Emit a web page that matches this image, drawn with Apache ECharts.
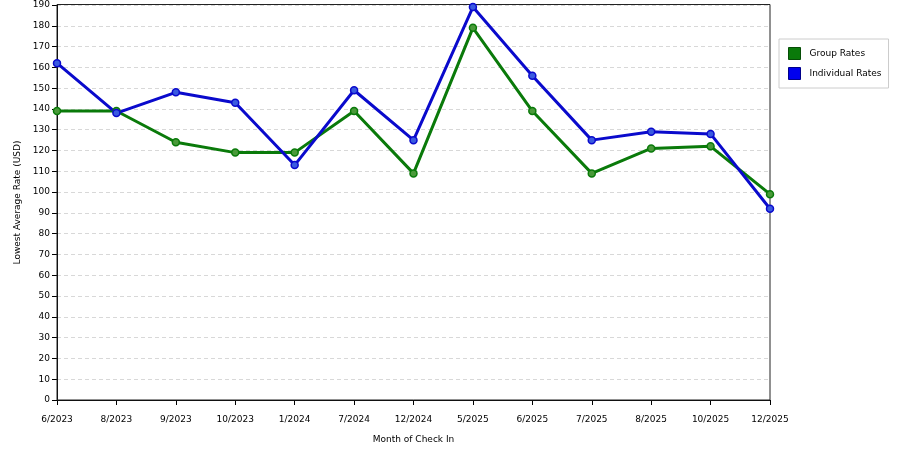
<!DOCTYPE html>
<html>
<head>
<meta charset="utf-8">
<script src="https://cdn.jsdelivr.net/npm/echarts@6/dist/echarts.min.js"></script>
<style>
  html, body { margin: 0; padding: 0; background: #fff; }
  #chart { width: 900px; height: 450px; }
</style>
</head>
<body>
<div id="chart"></div>
<script>
// categories and values
const months = ['6/2023', '8/2023', '9/2023', '10/2023', '1/2024', '7/2024', '12/2024',
                '5/2025', '6/2025', '7/2025', '8/2025', '10/2025', '12/2025'];
const groupRates = [139, 139, 124, 119, 119, 139, 109, 179, 139, 109, 121, 122, 99];
const individualRates = [162, 138, 148, 143, 113, 149, 125, 189, 156, 125, 129, 128, 92];

const chart = echarts.init(document.getElementById('chart'));

const font = 'DejaVu Sans, Arial, sans-serif';

function lineSeries(name, data, color, dot) {
    return {
        name: name,
        type: 'line',
        data: data,
        symbol: 'circle',
        symbolSize: 7,
        showSymbol: true,
        itemStyle: { color: dot, borderColor: color, borderWidth: 1.5 },
        lineStyle: { color: color, width: 3 },
        emphasis: { disabled: true },
        animation: false,
        z: 3
    };
}

const option = {
    backgroundColor: '#fff',
    grid: { left: 57, right: 130, top: 5, bottom: 50 },
    legend: {
        orient: 'vertical',
        left: 779,
        top: 39,
        padding: [8, 7, 8, 9],
        itemGap: 7,
        itemWidth: 12,
        itemHeight: 12,
        borderColor: '#ccc',
        borderWidth: 1,
        icon: 'rect',
        textStyle: { fontFamily: font, fontSize: 9, color: '#000', padding: [0, 0, 0, 4] },
        data: [
            { name: 'Group Rates', itemStyle: { color: '#0a7a0a', borderColor: '#064d06', borderWidth: 1 } },
            { name: 'Individual Rates', itemStyle: { color: '#0000ee', borderColor: '#00008a', borderWidth: 1 } }
        ]
    },
    xAxis: {
        type: 'category',
        data: months,
        boundaryGap: false,
        name: 'Month of Check In',
        nameLocation: 'middle',
        nameGap: 35,
        nameTextStyle: { fontFamily: font, fontSize: 9, color: '#000' },
        axisLine: { lineStyle: { color: '#000', width: 1 } },
        axisTick: { show: true, length: 5, lineStyle: { color: '#000' }, alignWithLabel: true },
        axisLabel: { fontFamily: font, fontSize: 9, color: '#000', margin: 15, interval: 0 },
        splitLine: { show: false }
    },
    yAxis: {
        type: 'value',
        min: 0,
        max: 190,
        interval: 10,
        name: 'Lowest Average Rate (USD)',
        nameLocation: 'middle',
        nameGap: 35,
        nameTextStyle: { fontFamily: font, fontSize: 9, color: '#000' },
        axisLine: { show: true, lineStyle: { color: '#000', width: 1 } },
        axisTick: { show: true, length: 5, lineStyle: { color: '#000' } },
        axisLabel: { fontFamily: font, fontSize: 9, color: '#000', margin: 7 },
        splitLine: { show: true, lineStyle: { color: '#d8d8d8', type: [4, 3], width: 1 } }
    },
    graphic: [{
        type: 'rect',
        shape: { x: 57, y: 4.5, width: 713, height: 395.5 },
        style: { fill: 'none', stroke: '#222', lineWidth: 1 },
        silent: true,
        z: 2
    }],
    series: [
        lineSeries('Group Rates', groupRates, '#0a7a0a', '#4a9a3a'),
        lineSeries('Individual Rates', individualRates, '#0a0acc', '#3a5ae0')
    ]
};

chart.setOption(option);
window.addEventListener('resize', () => chart.resize());
</script>
</body>
</html>
